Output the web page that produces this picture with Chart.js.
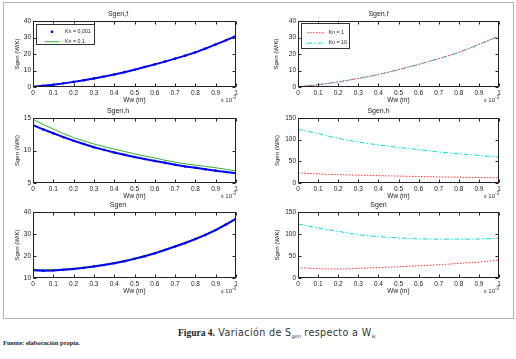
<!DOCTYPE html>
<html>
<head>
<meta charset="utf-8">
<script src="https://cdn.jsdelivr.net/npm/chart.js@4.4.0/dist/chart.umd.min.js"></script>
<style>
body { margin: 0; background: #fff; }
#page { position: relative; width: 516px; height: 359px; overflow: hidden; }
#frame { position: absolute; left: 3px; top: 2px; width: 509px; height: 315px; border: 1px solid #b4b4b4; }
canvas { position: absolute; }
#caption { position: absolute; left: 178px; top: 327px; font: 9.6px "DejaVu Sans", sans-serif; letter-spacing: 0.35px; white-space: nowrap; color: #333; }
#caption b { font: bold 9.5px "Liberation Serif", serif; letter-spacing: 0; color: #222; }
#caption sub { font-size: 5px; vertical-align: -2px; letter-spacing: 0; }
#source { position: absolute; left: 3px; top: 339px; font: bold 6.5px "Liberation Serif", serif; color: #222; white-space: nowrap; }
</style>
</head>
<body>
<div id="page">
  <div id="frame"></div>
  <div id="caption"><b>Figura 4.</b> Variación de S<sub>gen</sub> respecto a W<sub>w</sub></div>
  <div id="source">Fuente: elaboración propia.</div>
</div>
<script>
//================================ Data (Ww in m x 10^-3) ================================
var wwValues = [0, 0.05, 0.1, 0.15, 0.2, 0.25, 0.3, 0.35, 0.4, 0.45, 0.5, 0.55, 0.6, 0.65, 0.7, 0.75, 0.8, 0.85, 0.9, 0.95, 1];

// Sgen,f
var sgenF_kn0001 = [0.2, 0.8, 1.4, 2.2, 3.1, 4.1, 5.2, 6.3, 7.6, 9.0, 10.5, 12.1, 13.7, 15.4, 17.2, 19.0, 21.0, 23.3, 25.8, 28.3, 30.9];
var sgenF_kn01   = [0.2, 0.8, 1.4, 2.2, 3.1, 4.1, 5.2, 6.3, 7.6, 9.0, 10.5, 12.1, 13.7, 15.4, 17.2, 19.0, 21.0, 23.3, 25.8, 28.3, 30.9];
var sgenF_kn1    = [0.2, 0.8, 1.4, 2.2, 3.1, 4.1, 5.2, 6.3, 7.6, 9.0, 10.5, 12.1, 13.7, 15.4, 17.2, 19.0, 21.0, 23.3, 25.8, 28.3, 30.9];
var sgenF_kn10   = [0.2, 0.8, 1.4, 2.2, 3.1, 4.1, 5.2, 6.3, 7.6, 9.0, 10.5, 12.1, 13.7, 15.4, 17.2, 19.0, 21.0, 23.3, 25.8, 28.3, 30.9];

// Sgen,h
var sgenH_kn0001 = [13.9, 13.25, 12.65, 12.05, 11.5, 11.0, 10.5, 10.1, 9.7, 9.35, 9.0, 8.7, 8.4, 8.1, 7.8, 7.55, 7.35, 7.1, 6.9, 6.7, 6.5];
var sgenH_kn01   = [14.8, 14.0, 13.3, 12.6, 12.0, 11.5, 11.0, 10.6, 10.2, 9.85, 9.5, 9.15, 8.85, 8.5, 8.2, 7.95, 7.75, 7.55, 7.35, 7.1, 6.85];
var sgenH_kn1    = [23, 22, 21, 20, 19.3, 18.6, 18, 17.5, 17, 16.5, 16, 15.5, 15, 14.5, 14.1, 13.7, 13.3, 13, 12.7, 12.4, 12];
var sgenH_kn10   = [124, 119, 114, 108, 103, 98.5, 94.5, 91, 88, 85, 82, 79.5, 77, 74, 71.5, 69.5, 67.5, 65.5, 63.5, 61.5, 60];

// Sgen
var sgen_kn0001 = [13.5, 13.3, 13.4, 13.7, 14.1, 14.6, 15.2, 15.9, 16.7, 17.6, 18.7, 19.9, 21.2, 22.7, 24.3, 25.9, 27.7, 29.6, 31.8, 34.3, 36.9];
var sgen_kn01   = [14.0, 13.8, 13.8, 14.0, 14.4, 14.9, 15.5, 16.2, 17.0, 17.9, 19.0, 20.2, 21.5, 23.0, 24.6, 26.2, 28.0, 29.9, 32.1, 34.6, 37.3];
var sgen_kn1    = [23.5, 22.5, 21, 20.6, 20.4, 21, 22, 22.8, 23.4, 24.4, 25.6, 26.8, 28, 29, 30.2, 31.6, 33.2, 34.8, 36.3, 38.5, 40.8];
var sgen_kn10   = [123, 118, 113.5, 109.5, 106, 102, 98.5, 96, 94, 92.3, 91, 90, 89, 88.6, 88.4, 88.3, 88.3, 88.4, 88.6, 89.5, 90.8];

var xTicks = { min: 0, max: 1, step: 0.1 };
var xLabel = 'Ww (m)';
var yLabel = 'Sgen (W/K)';

//================================ Helpers ================================
var FONT = '"Liberation Sans", Arial, sans-serif';

function pts(ys) {
    return wwValues.map(function(x, i) { return { x: x, y: ys[i] }; });
}

function blueSet(label, ys) {
    return { label: label, data: pts(ys), borderColor: '#0000ff', backgroundColor: '#0000ff',
             borderWidth: 2, pointRadius: 1.3, pointBorderWidth: 0, legendDot: true };
}
function greenSet(label, ys) {
    return { label: label, data: pts(ys), borderColor: '#30b030', borderWidth: 1, pointRadius: 0 };
}
function redSet(label, ys) {
    return { label: label, data: pts(ys), borderColor: '#ff3030', borderWidth: 1, borderDash: [1.5, 1.5], pointRadius: 0 };
}
function cyanSet(label, ys) {
    return { label: label, data: pts(ys), borderColor: '#00dede', borderWidth: 1, borderDash: [5, 2, 1.5, 2], pointRadius: 0 };
}

// box, inward ticks, x10^-3 and legend drawn MATLAB-like
var matlabBox = {
    id: 'matlabBox',
    afterDatasetsDraw: function(chart, args, opts) {
        var ctx = chart.ctx, a = chart.chartArea, xs = chart.scales.x, ys = chart.scales.y;
        var L = Math.round(a.left) + 0.5, R = Math.round(a.right) - 0.5;
        var T = Math.round(a.top) + 0.5, B = Math.round(a.bottom) - 0.5;
        ctx.save();
        ctx.strokeStyle = '#222';
        ctx.lineWidth = 1;
        ctx.setLineDash([]);
        ctx.strokeRect(L, T, R - L, B - T);
        ctx.beginPath();
        xs.ticks.forEach(function(t) {
            var px = Math.round(xs.getPixelForValue(t.value)) + 0.5;
            ctx.moveTo(px, T); ctx.lineTo(px, T + 3);
            ctx.moveTo(px, B); ctx.lineTo(px, B - 3);
        });
        ys.ticks.forEach(function(t) {
            var py = Math.round(ys.getPixelForValue(t.value)) + 0.5;
            ctx.moveTo(L, py); ctx.lineTo(L + 3, py);
            ctx.moveTo(R, py); ctx.lineTo(R - 3, py);
        });
        ctx.stroke();

        // exponent label
        ctx.fillStyle = '#333';
        ctx.textBaseline = 'middle';
        ctx.textAlign = 'right';
        ctx.font = '4.5px ' + FONT;
        ctx.fillText('-3', a.right, a.bottom + 10.5);
        var w = ctx.measureText('-3').width;
        ctx.font = '6px ' + FONT;
        ctx.fillText('x 10', a.right - w, a.bottom + 13);

        // legend
        var lg = opts.legend;
        if (lg) {
            var bx = a.left + lg.x, by = a.top + lg.y;
            ctx.fillStyle = '#fff';
            ctx.fillRect(bx, by, lg.w, lg.h);
            ctx.strokeStyle = '#333';
            ctx.strokeRect(Math.round(bx) + 0.5, Math.round(by) + 0.5, lg.w, lg.h);
            chart.data.datasets.forEach(function(ds, i) {
                var ry = by + lg.rows[i];
                if (ds.legendDot) {
                    ctx.fillStyle = ds.borderColor;
                    ctx.beginPath();
                    ctx.arc(bx + (lg.line0 + lg.line1) / 2, ry, 1.4, 0, Math.PI * 2);
                    ctx.fill();
                } else {
                    ctx.strokeStyle = ds.borderColor;
                    ctx.lineWidth = ds.borderWidth;
                    ctx.setLineDash(ds.borderDash || []);
                    ctx.beginPath();
                    ctx.moveTo(bx + lg.line0, ry + 0.5);
                    ctx.lineTo(bx + lg.line1, ry + 0.5);
                    ctx.stroke();
                    ctx.setLineDash([]);
                }
                ctx.fillStyle = '#222';
                ctx.textAlign = 'left';
                ctx.font = '5.3px ' + FONT;
                ctx.fillText(ds.label, bx + lg.textX, ry);
            });
        }
        ctx.restore();
    }
};

var legendLeft  = { x: 3, y: 2.5, w: 58, h: 20, line0: 8.5, line1: 23.5, textX: 29, rows: [8.3, 17.7] };
var legendRight = { x: 2.5, y: 1.7, w: 48, h: 25, line0: 6.5, line1: 24.5, textX: 28, rows: [9.5, 20] };

var plots = [
    { left: 33,  top: 21,  w: 203, h: 66, padL: 33, yTitlePad: 14, title: 'Sgen,f', ymin: 0,  ymax: 40,  ystep: 10,
      datasets: [blueSet('Kn = 0,001', sgenF_kn0001), greenSet('Kn = 0,1', sgenF_kn01)], legend: legendLeft },
    { left: 298, top: 21,  w: 201, h: 66, padL: 40, yTitlePad: 15, title: 'Sgen,f', ymin: 0,  ymax: 40,  ystep: 10,
      datasets: [redSet('Kn = 1', sgenF_kn1), cyanSet('Kn = 10', sgenF_kn10)], legend: legendRight },
    { left: 33,  top: 118, w: 203, h: 65, padL: 33, yTitlePad: 14, title: 'Sgen,h', ymin: 5,  ymax: 15,  ystep: 5,
      datasets: [blueSet('Kn = 0,001', sgenH_kn0001), greenSet('Kn = 0,1', sgenH_kn01)] },
    { left: 298, top: 118, w: 201, h: 65, padL: 40, yTitlePad: 16, title: 'Sgen,h', ymin: 0,  ymax: 150, ystep: 50,
      datasets: [redSet('Kn = 1', sgenH_kn1), cyanSet('Kn = 10', sgenH_kn10)] },
    { left: 33,  top: 212, w: 203, h: 66, padL: 33, yTitlePad: 14, title: 'Sgen',   ymin: 10, ymax: 40,  ystep: 10,
      datasets: [blueSet('Kn = 0,001', sgen_kn0001), greenSet('Kn = 0,1', sgen_kn01)] },
    { left: 298, top: 212, w: 201, h: 66, padL: 40, yTitlePad: 16, title: 'Sgen',   ymin: 0,  ymax: 150, ystep: 50,
      datasets: [redSet('Kn = 1', sgen_kn1), cyanSet('Kn = 10', sgen_kn10)] }
];

//================================ Charts ================================
var TITLE_H = 14, XAXIS_H = 17, RIGHT_PAD = 5;
var page = document.getElementById('page');

plots.forEach(function(p) {
    var cv = document.createElement('canvas');
    var cw = p.padL + p.w + RIGHT_PAD, ch = TITLE_H + p.h + XAXIS_H;
    cv.width = cw; cv.height = ch;
    cv.style.width = cw + 'px'; cv.style.height = ch + 'px';
    cv.style.left = (p.left - p.padL) + 'px';
    cv.style.top = (p.top - TITLE_H) + 'px';
    page.appendChild(cv);

    new Chart(cv.getContext('2d'), {
        type: 'line',
        data: { datasets: p.datasets },
        options: {
            responsive: false,
            animation: false,
            devicePixelRatio: 1,
            layout: { padding: { left: 0, top: 0, right: RIGHT_PAD, bottom: 0 } },
            plugins: {
                legend: { display: false },
                tooltip: { enabled: false },
                title: {
                    display: true, text: p.title, color: '#222',
                    font: { family: FONT, size: 7, weight: 'normal', lineHeight: 1 },
                    padding: { top: 4, bottom: 3 }
                },
                matlabBox: { legend: p.legend || null }
            },
            scales: {
                x: {
                    type: 'linear', min: xTicks.min, max: xTicks.max,
                    grid: { display: false, drawTicks: false },
                    border: { display: false },
                    ticks: {
                        stepSize: xTicks.step, padding: 2, maxRotation: 0, color: '#222',
                        font: { family: FONT, size: 6.5 },
                        callback: function(v) { return String(Math.round(v * 10) / 10); }
                    },
                    title: { display: true, text: xLabel, color: '#222', padding: 0,
                             font: { family: FONT, size: 6.5 } },
                    afterFit: function(s) { s.height = XAXIS_H; }
                },
                y: {
                    min: p.ymin, max: p.ymax,
                    grid: { display: false, drawTicks: false },
                    border: { display: false },
                    ticks: { stepSize: p.ystep, padding: 2, color: '#222', font: { family: FONT, size: 6.5 } },
                    title: { display: true, text: yLabel, color: '#222', padding: { top: p.yTitlePad, bottom: 0 },
                             font: { family: FONT, size: 6 } },
                    afterFit: function(s) { s.width = p.padL; }
                }
            }
        },
        plugins: [matlabBox]
    });
});
</script>
</body>
</html>
